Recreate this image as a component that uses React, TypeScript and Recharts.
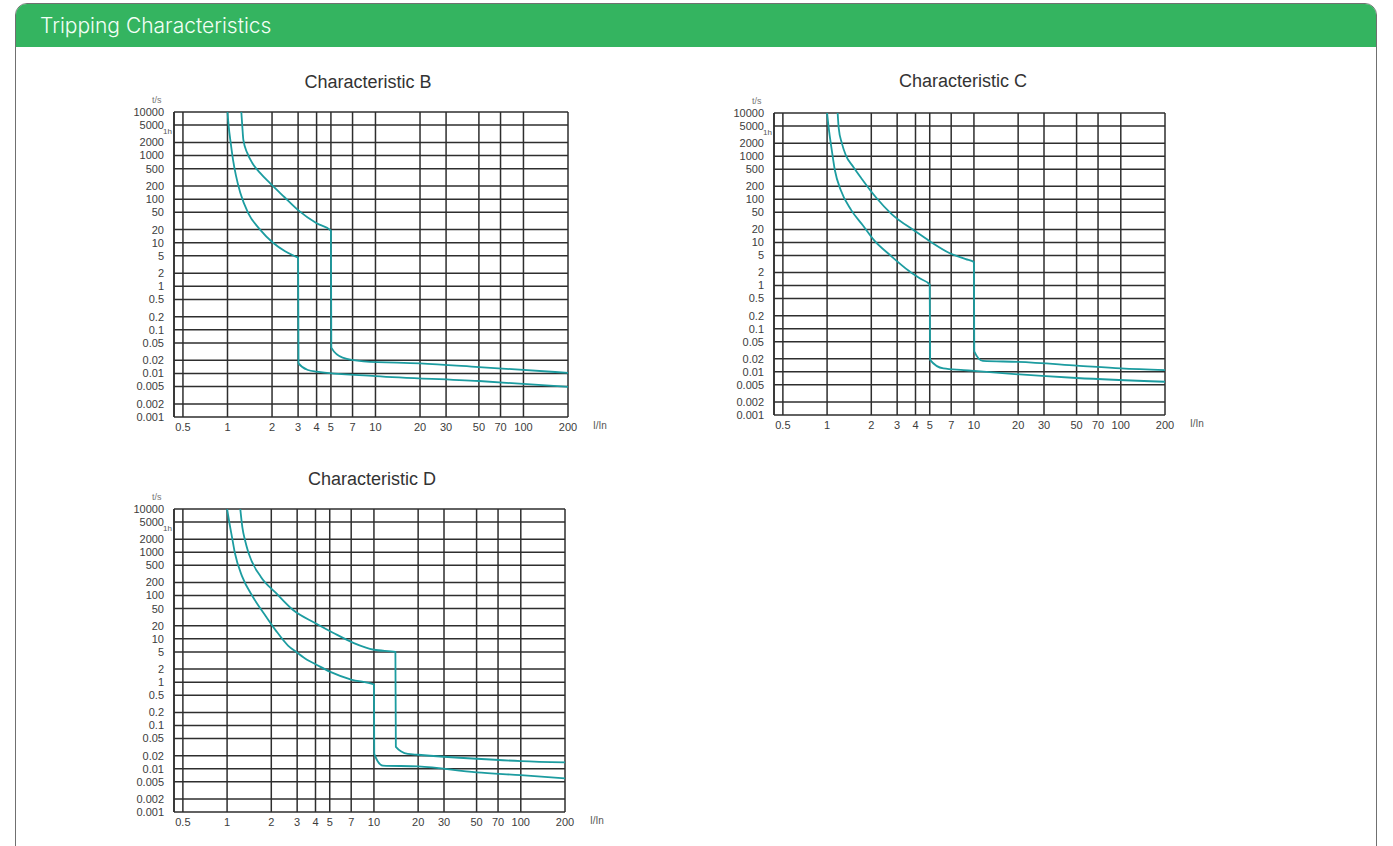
import React from 'react';
import { LineChart, Line, XAxis, YAxis, CartesianGrid, ReferenceLine } from 'recharts';

const X_TICKS = [0.5, 1, 2, 3, 4, 5, 7, 10, 20, 30, 50, 70, 100, 200];
const Y_TICKS = [10000, 5000, 2000, 1000, 500, 200, 100, 50, 20, 10, 5, 2, 1, 0.5, 0.2, 0.1, 0.05, 0.02, 0.01, 0.005, 0.002, 0.001];

const bLower = [
  { x: 1.0, t: 10000 }, { x: 1.02, t: 4500 }, { x: 1.05, t: 2000 }, { x: 1.09, t: 800 },
  { x: 1.14, t: 350 }, { x: 1.22, t: 140 }, { x: 1.38, t: 48 }, { x: 1.66, t: 20 },
  { x: 2.03, t: 10 }, { x: 2.45, t: 6.4 }, { x: 2.85, t: 4.9 }, { x: 3.0, t: 4.5 },
  { x: 3.02, t: 0.017 }, { x: 3.5, t: 0.012 }, { x: 4, t: 0.011 }, { x: 10, t: 0.0087 },
  { x: 50, t: 0.0067 }, { x: 200, t: 0.0049 },
];
const bUpper = [
  { x: 1.24, t: 10000 }, { x: 1.26, t: 4530 }, { x: 1.28, t: 2280 }, { x: 1.36, t: 1150 },
  { x: 1.47, t: 677 }, { x: 1.66, t: 400 }, { x: 1.93, t: 235 }, { x: 2.42, t: 112 },
  { x: 3, t: 56 }, { x: 4, t: 28 }, { x: 5, t: 19 }, { x: 5.03, t: 0.039 },
  { x: 6, t: 0.023 }, { x: 8.3, t: 0.019 }, { x: 20, t: 0.017 }, { x: 50, t: 0.014 },
  { x: 200, t: 0.0103 },
];

const cLower = [
  { x: 1.0, t: 10000 }, { x: 1.03, t: 4000 }, { x: 1.07, t: 1580 }, { x: 1.13, t: 470 },
  { x: 1.24, t: 162 }, { x: 1.46, t: 56 }, { x: 1.75, t: 25 }, { x: 2.1, t: 11 },
  { x: 2.7, t: 5 }, { x: 3.6, t: 2.2 }, { x: 4.3, t: 1.45 }, { x: 5, t: 1.05 },
  { x: 5.03, t: 0.019 }, { x: 6.2, t: 0.012 }, { x: 8.5, t: 0.011 }, { x: 10, t: 0.0105 },
  { x: 50, t: 0.0072 }, { x: 200, t: 0.0059 },
];
const cUpper = [
  { x: 1.18, t: 10000 }, { x: 1.2, t: 4450 }, { x: 1.26, t: 2000 }, { x: 1.34, t: 1060 },
  { x: 1.51, t: 560 }, { x: 1.72, t: 300 }, { x: 2.17, t: 107 }, { x: 2.74, t: 46 },
  { x: 4, t: 18 }, { x: 5, t: 10.7 }, { x: 6.8, t: 5.7 }, { x: 8.8, t: 4.1 },
  { x: 10, t: 3.5 }, { x: 10.05, t: 0.03 }, { x: 11.5, t: 0.018 }, { x: 20, t: 0.017 },
  { x: 50, t: 0.014 }, { x: 100, t: 0.012 }, { x: 200, t: 0.011 },
];

const dLower = [
  { x: 1.0, t: 10000 }, { x: 1.04, t: 4500 }, { x: 1.08, t: 2240 }, { x: 1.13, t: 960 },
  { x: 1.27, t: 270 }, { x: 1.5, t: 93 }, { x: 1.85, t: 32 }, { x: 2.15, t: 15.5 },
  { x: 2.6, t: 7 }, { x: 3, t: 4.8 }, { x: 3.5, t: 3.3 }, { x: 4, t: 2.6 },
  { x: 5, t: 1.75 }, { x: 7, t: 1.15 }, { x: 10, t: 0.88 }, { x: 10.05, t: 0.022 },
  { x: 11.5, t: 0.0118 }, { x: 20, t: 0.0113 }, { x: 50, t: 0.0082 }, { x: 100, t: 0.0071 },
  { x: 200, t: 0.006 },
];
const dUpper = [
  { x: 1.23, t: 10000 }, { x: 1.27, t: 3830 }, { x: 1.33, t: 1800 }, { x: 1.4, t: 960 },
  { x: 1.7, t: 270 }, { x: 2.15, t: 115 }, { x: 2.8, t: 47 }, { x: 4, t: 23 },
  { x: 5.3, t: 13.7 }, { x: 7.3, t: 8 }, { x: 10, t: 5.6 }, { x: 14, t: 5 },
  { x: 14.1, t: 0.032 }, { x: 17, t: 0.022 }, { x: 20, t: 0.021 }, { x: 50, t: 0.017 },
  { x: 100, t: 0.015 }, { x: 200, t: 0.014 },
];

const FONT = '"Liberation Sans", Arial, sans-serif';
const CURVE = '#1c9ca0';
const GRID = '#2e2e2e';

type Pt = { x: number; t: number };

function TripChart(props: {
  title: string; left: number; top: number; w: number; h: number;
  lower: Pt[]; upper: Pt[]; titleX: number; titleY: number;
}) {
  const { title, left, top, w, h, lower, upper, titleX, titleY } = props;
  const ML = 70, MT = 20, MR = 10, XH = 30;
  const tickStyle = { fontSize: 11, fill: '#3c3c3c', fontFamily: FONT };
  return (
    <>
      <div style={{ position: 'absolute', left: titleX, top: titleY, transform: 'translate(-50%,-50%)', fontFamily: FONT, fontSize: 18, color: '#333', whiteSpace: 'nowrap' }}>{title}</div>
      <div style={{ position: 'absolute', left: left - 22, top: top - 17, fontFamily: FONT, fontSize: 9, color: '#777' }}>t/s</div>
      <div style={{ position: 'absolute', left: left + w + 25, top: top + h + 3, fontFamily: FONT, fontSize: 10, color: '#555' }}>I/In</div>
      <div style={{ position: 'absolute', left: left - ML, top: top - MT }}>
        <LineChart width={w + ML + MR} height={h + MT + XH} margin={{ top: MT, right: MR, left: 0, bottom: 0 }}>
          <CartesianGrid stroke={GRID} strokeWidth={1.5} />
          <XAxis dataKey="x" type="number" scale="log" domain={[0.435, 200]} ticks={X_TICKS} interval={0}
            allowDataOverflow tickLine={false} axisLine={false} tickSize={0} tickMargin={6} height={XH} tick={tickStyle} />
          <YAxis type="number" scale="log" domain={[0.001, 10000]} ticks={Y_TICKS} interval={0}
            allowDataOverflow width={ML} axisLine={{ stroke: GRID, strokeWidth: 1.5 }} tickLine={false}
            tickSize={0} tickMargin={10} tick={tickStyle} />
          <ReferenceLine y={3600} stroke="none" label={{ value: '1h', position: 'left', offset: 2, fontSize: 8, fill: '#555', fontFamily: FONT }} />
          <Line data={lower} dataKey="t" type="monotone" stroke={CURVE} strokeWidth={1.8} dot={false} isAnimationActive={false} />
          <Line data={upper} dataKey="t" type="monotone" stroke={CURVE} strokeWidth={1.8} dot={false} isAnimationActive={false} />
        </LineChart>
      </div>
    </>
  );
}

export default function App() {
  return (
    <div style={{ position: 'fixed', left: 0, top: 0, width: 1393, height: 846, background: '#fff', overflow: 'hidden' }}>
      <div style={{ position: 'absolute', left: 15, top: 3, width: 1360, height: 900, border: '1.5px solid #707070', borderRadius: '12px 12px 0 0', overflow: 'hidden', background: '#fff' }}>
        <div style={{ height: 43, background: '#34b460', color: '#f2fff6', fontFamily: 'Inter, "Noto Sans", sans-serif', fontWeight: 300, fontSize: 21, lineHeight: '43px', paddingLeft: 24 }}>
          Tripping Characteristics
        </div>
      </div>
      <TripChart title="Characteristic B" left={174} top={112} w={394} h={305} lower={bLower} upper={bUpper} titleX={368} titleY={82} />
      <TripChart title="Characteristic C" left={774} top={113} w={391} h={302} lower={cLower} upper={cUpper} titleX={963} titleY={81} />
      <TripChart title="Characteristic D" left={174} top={509} w={391} h={303} lower={dLower} upper={dUpper} titleX={372} titleY={479} />
    </div>
  );
}
